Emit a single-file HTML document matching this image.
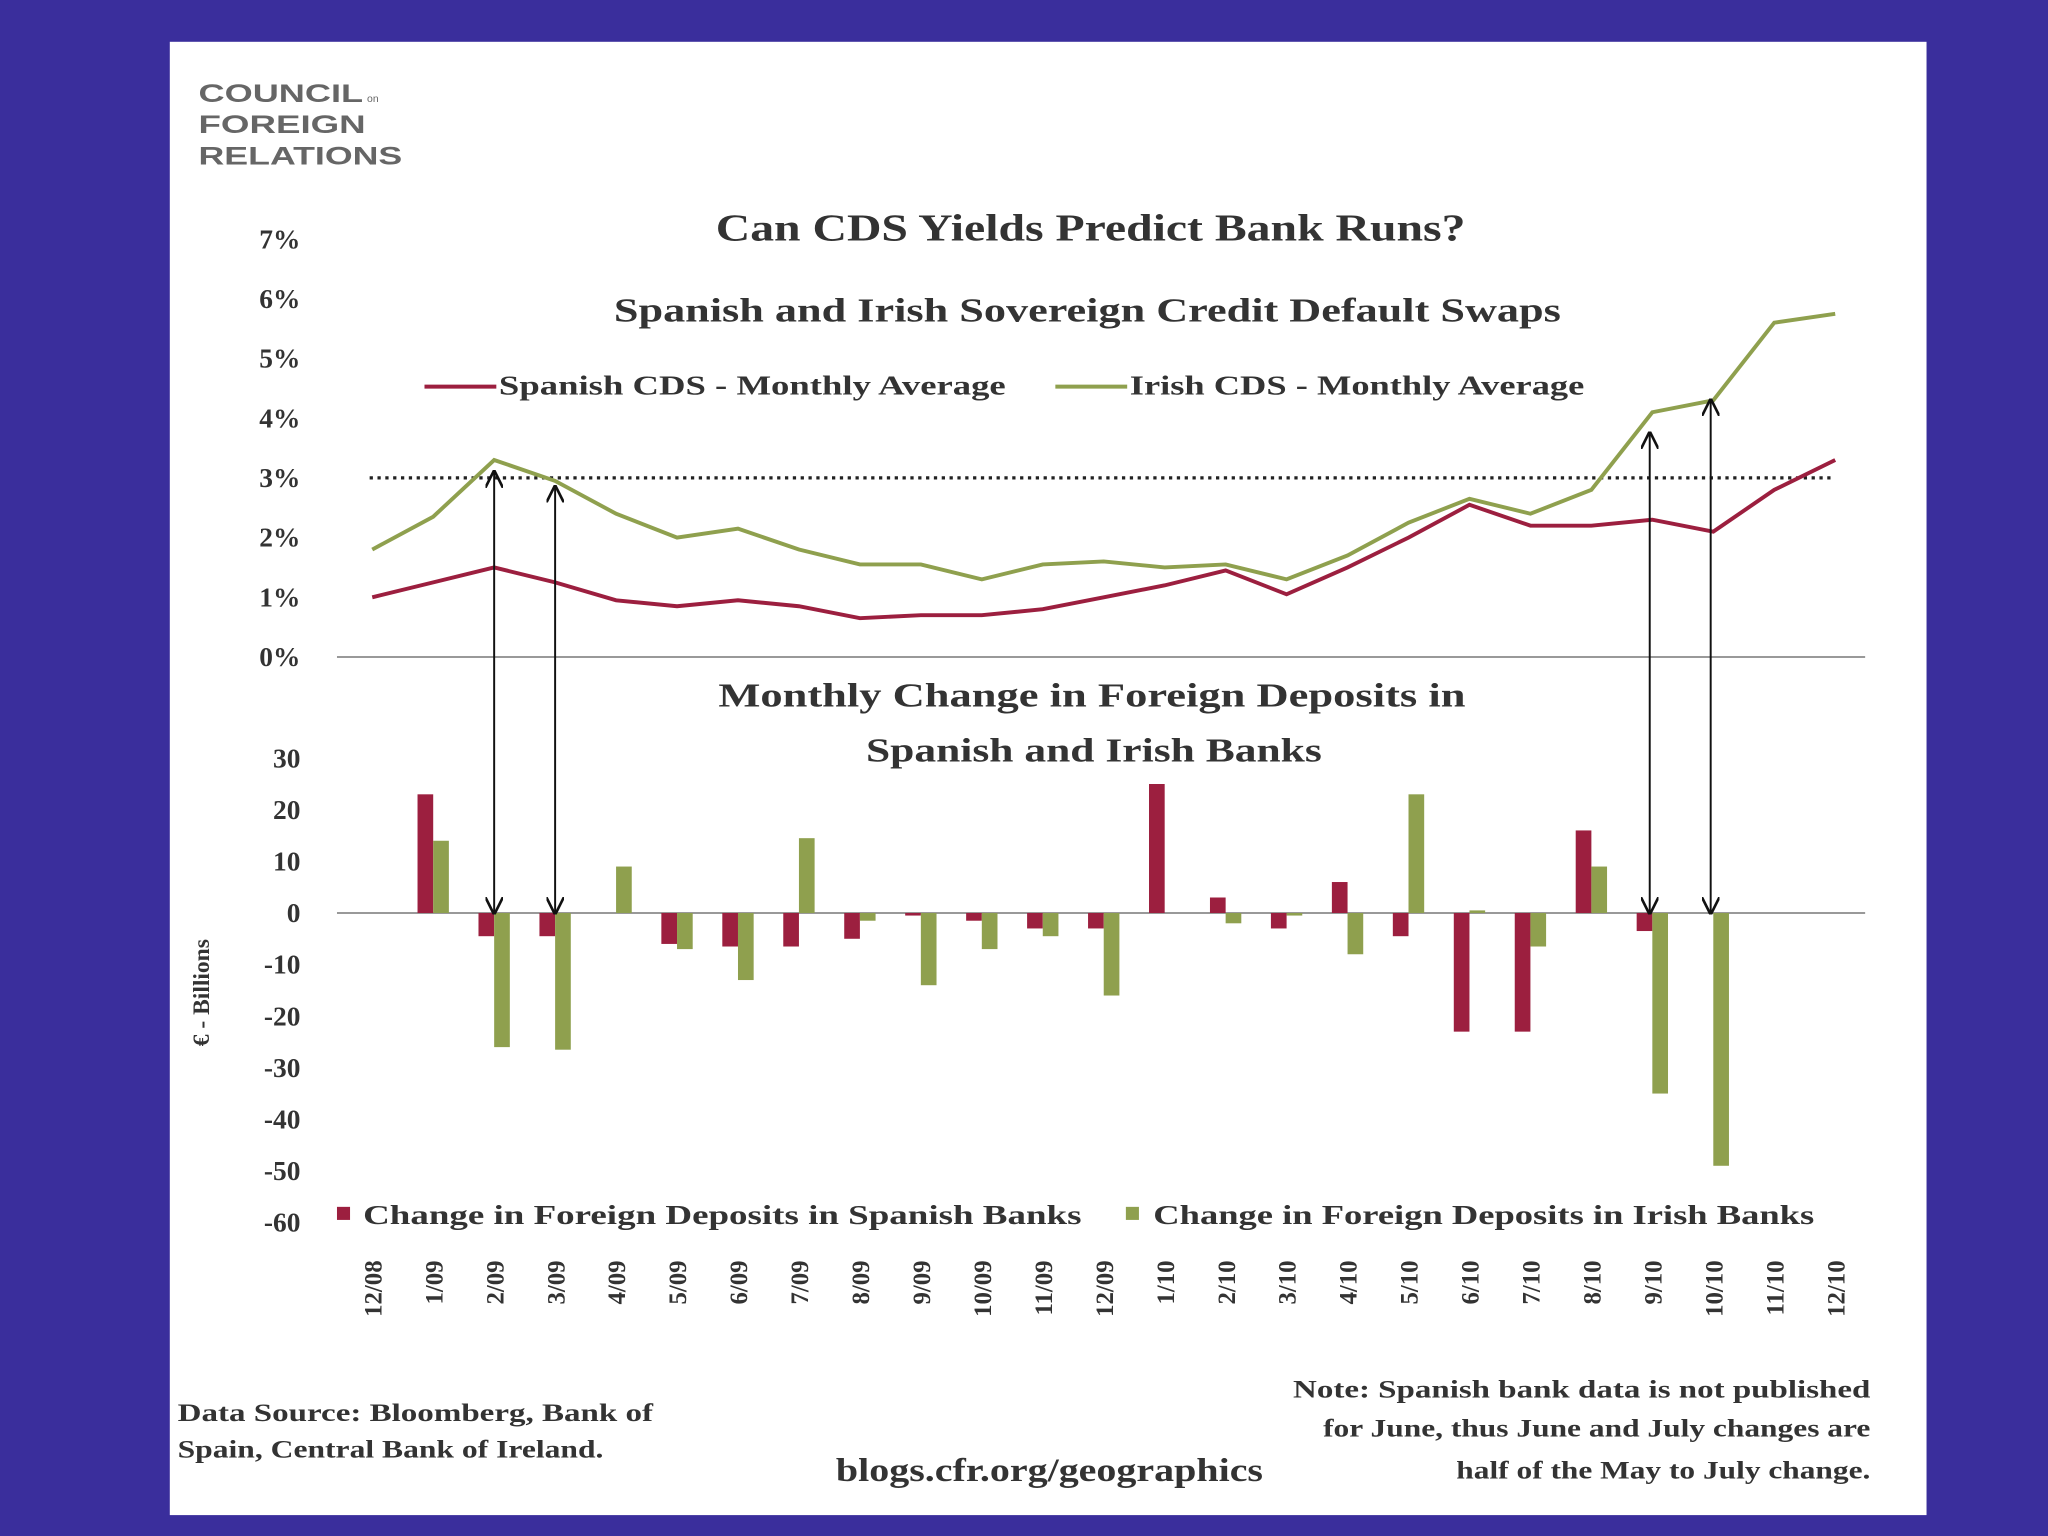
<!DOCTYPE html>
<html><head><meta charset="utf-8"><style>
html,body{margin:0;padding:0;background:#3a2e9c;}
svg{display:block;}
text{font-family:"Liberation Serif",serif;fill:#333;}
.logo text{font-family:"Liberation Sans",sans-serif;fill:#666;}
</style></head><body>
<svg width="2048" height="1536" viewBox="0 0 1568 1176" xmlns="http://www.w3.org/2000/svg">
<defs>
<marker id="ah" viewBox="0 0 10 10" refX="9" refY="5" markerWidth="9" markerHeight="9" orient="auto-start-reverse"><path d="M0,0 L10,5 L0,10" fill="none" stroke="#111" stroke-width="1.5"/></marker>
</defs>
<rect x="0" y="0" width="1568" height="1176" fill="#3a2e9c"/>
<rect x="130" y="32" width="1345" height="1128" fill="#fff"/>
<g class="logo">
<text x="152" y="78" style="font-family:'Liberation Sans',sans-serif" font-weight="bold" font-size="19" textLength="126" lengthAdjust="spacingAndGlyphs">COUNCIL</text>
<text x="281" y="78" style="font-family:'Liberation Sans',sans-serif" font-size="8" fill="#888">on</text>
<text x="152" y="102" style="font-family:'Liberation Sans',sans-serif" font-weight="bold" font-size="19" textLength="128" lengthAdjust="spacingAndGlyphs">FOREIGN</text>
<text x="152" y="126" style="font-family:'Liberation Sans',sans-serif" font-weight="bold" font-size="19" textLength="156" lengthAdjust="spacingAndGlyphs">RELATIONS</text>
</g>
<text x="548" y="184" font-size="29" font-weight="bold" textLength="574" lengthAdjust="spacingAndGlyphs">Can CDS Yields Predict Bank Runs?</text>
<text x="470" y="246" font-size="26" font-weight="bold" textLength="725" lengthAdjust="spacingAndGlyphs">Spanish and Irish Sovereign Credit Default Swaps</text>
<g>
<line x1="325" y1="296" x2="380" y2="296" stroke="#9c1f3f" stroke-width="3"/>
<text x="382" y="302" font-size="21" font-weight="bold" textLength="388" lengthAdjust="spacingAndGlyphs">Spanish CDS - Monthly Average</text>
<line x1="808" y1="296" x2="863" y2="296" stroke="#8fa04e" stroke-width="3"/>
<text x="865" y="302" font-size="21" font-weight="bold" textLength="348" lengthAdjust="spacingAndGlyphs">Irish CDS - Monthly Average</text>
</g>
<text x="550" y="541" font-size="26" font-weight="bold" textLength="572" lengthAdjust="spacingAndGlyphs">Monthly Change in Foreign Deposits in</text>
<text x="663" y="583" font-size="26" font-weight="bold" textLength="349" lengthAdjust="spacingAndGlyphs">Spanish and Irish Banks</text>
<g>
<rect x="258" y="924" width="10" height="10" fill="#9c1f3f"/>
<text x="278" y="937" font-size="21" font-weight="bold" textLength="550" lengthAdjust="spacingAndGlyphs">Change in  Foreign Deposits  in Spanish Banks</text>
<rect x="862" y="924" width="10" height="10" fill="#8fa04e"/>
<text x="883" y="937" font-size="21" font-weight="bold" textLength="506" lengthAdjust="spacingAndGlyphs">Change in  Foreign Deposits  in Irish Banks</text>
</g>
<text transform="translate(160,760) rotate(-90)" text-anchor="middle" font-size="18" font-weight="bold">€ - Billions</text>
<text x="136" y="1088" font-size="19" font-weight="bold" textLength="364" lengthAdjust="spacingAndGlyphs">Data Source: Bloomberg, Bank of</text>
<text x="136" y="1116" font-size="19" font-weight="bold" textLength="326" lengthAdjust="spacingAndGlyphs">Spain, Central Bank of Ireland.</text>
<text x="640" y="1134" font-size="25" font-weight="bold" textLength="327" lengthAdjust="spacingAndGlyphs">blogs.cfr.org/geographics</text>
<text x="990" y="1070" font-size="19" font-weight="bold" textLength="442" lengthAdjust="spacingAndGlyphs">Note: Spanish bank data is not published</text>
<text x="1013" y="1100" font-size="19" font-weight="bold" textLength="419" lengthAdjust="spacingAndGlyphs">for June, thus June and July changes are</text>
<text x="1115" y="1132" font-size="19" font-weight="bold" textLength="317" lengthAdjust="spacingAndGlyphs">half of the May to July change.</text>
<g id="plot"></g>
</svg>
<script>
const months=["12/08","1/09","2/09","3/09","4/09","5/09","6/09","7/09","8/09","9/09","10/09","11/09","12/09","1/10","2/10","3/10","4/10","5/10","6/10","7/10","8/10","9/10","10/10","11/10","12/10"];
const spainCDS=[1.0,1.25,1.5,1.25,0.95,0.85,0.95,0.85,0.65,0.7,0.7,0.8,1.0,1.2,1.45,1.05,1.5,2.0,2.55,2.2,2.2,2.3,2.1,2.8,3.3];
const irishCDS=[1.8,2.35,3.3,2.95,2.4,2.0,2.15,1.8,1.55,1.55,1.3,1.55,1.6,1.5,1.55,1.3,1.7,2.25,2.65,2.4,2.8,4.1,4.3,5.6,5.75];
const spainDep=[null,23,-4.5,-4.5,0,-6,-6.5,-6.5,-5,-0.5,-1.5,-3,-3,25,3,-3,6,-4.5,-23,-23,16,-3.5,0,null,null];
const irishDep=[null,14,-26,-26.5,9,-7,-13,14.5,-1.5,-14,-7,-4.5,-16,0,-2,-0.5,-8,23,0.5,-6.5,9,-35,-49,null,null];
const pctTicks=[0,1,2,3,4,5,6,7];
const depTicks=[30,20,10,0,-10,-20,-30,-40,-50,-60];
const threshold=3;
const arrowIdx=[2,3,21,22];
const arrowTop=[3.1,2.85,3.75,4.3];
const NS="http://www.w3.org/2000/svg";
const g=document.getElementById('plot');
const X=i=>285+i*46.67;
const Yp=v=>503-v*45.7;
const Yd=v=>699-v*3.95;
function mk(t,a){const e=document.createElementNS(NS,t);for(const k in a)e.setAttribute(k,a[k]);g.appendChild(e);return e;}
pctTicks.forEach(v=>{const t=mk('text',{x:230,y:Yp(v)+7,'text-anchor':'end','font-size':21,'font-weight':'bold'});t.textContent=v+'%';

});
depTicks.forEach(v=>{const t=mk('text',{x:230,y:Yd(v)+7,'text-anchor':'end','font-size':21,'font-weight':'bold'});t.textContent=v;

});
let a=mk('line',{x1:258,x2:1428,y1:Yp(0),y2:Yp(0),stroke:'#999','stroke-width':1.5});


a=mk('line',{x1:258,x2:1428,y1:Yd(0),y2:Yd(0),stroke:'#999','stroke-width':1.5});


a=mk('line',{x1:283,x2:1405,y1:Yp(threshold),y2:Yp(threshold),stroke:'#222','stroke-width':2.5,'stroke-dasharray':'2.5 3.5'});


months.forEach((m,i)=>{
 if(spainDep[i]!==null&&spainDep[i]!==0){const v=spainDep[i];const r=mk('rect',{x:X(i)-12,y:Math.min(Yd(v),Yd(0)),width:12,height:Math.abs(Yd(v)-Yd(0)),fill:'#9c1f3f'});
 
 }
 if(irishDep[i]!==null&&irishDep[i]!==0){const v=irishDep[i];const r=mk('rect',{x:X(i),y:Math.min(Yd(v),Yd(0)),width:12,height:Math.abs(Yd(v)-Yd(0)),fill:'#8fa04e'});
 
 }
 const t=mk('text',{transform:`translate(${X(i)+7},965) rotate(-90)`,'text-anchor':'end','font-size':19,'font-weight':'bold'});t.textContent=m;
 
 
});
let p=mk('polyline',{points:spainCDS.map((v,i)=>X(i)+','+Yp(v)).join(' '),fill:'none',stroke:'#9c1f3f','stroke-width':3});


p=mk('polyline',{points:irishCDS.map((v,i)=>X(i)+','+Yp(v)).join(' '),fill:'none',stroke:'#8fa04e','stroke-width':3});


arrowIdx.forEach((i,k)=>{const l=mk('line',{x1:X(i)+(i>20?-2:0),x2:X(i)+(i>20?-2:0),y1:Yp(arrowTop[k]),y2:Yd(0),stroke:'#111','stroke-width':1.5,'marker-start':'url(#ah)','marker-end':'url(#ah)'});

});
</script>
</body></html>
